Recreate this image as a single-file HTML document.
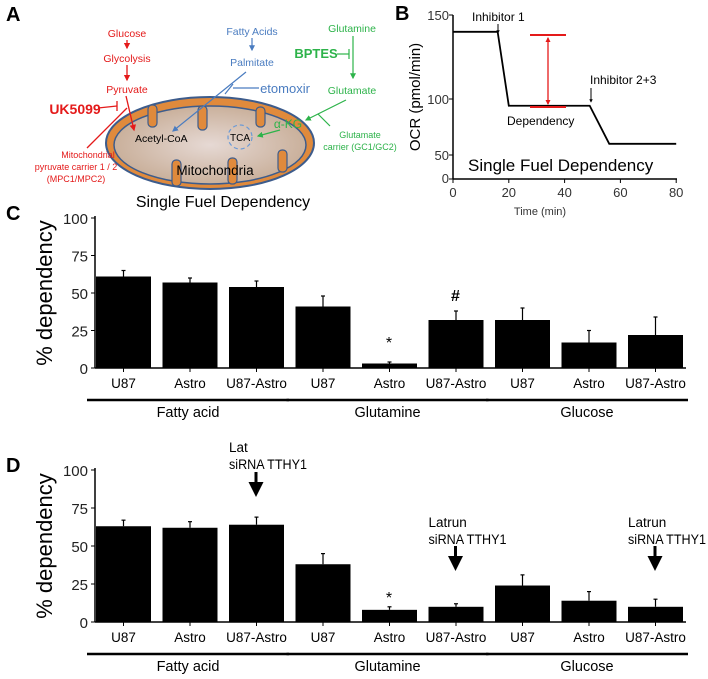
<!DOCTYPE html>
<html><head><meta charset="utf-8"><style>
html,body{margin:0;padding:0;background:#fff}
svg{display:block;font-family:"Liberation Sans",sans-serif}
</style></head><body>
<svg width="708" height="679" viewBox="0 0 708 679">
<defs>
<marker id="ab" viewBox="0 0 10 10" refX="8" refY="5" markerWidth="5" markerHeight="5" orient="auto"><path d="M0,0L10,5L0,10z" fill="#4a7cc0"/></marker>
<marker id="ar" viewBox="0 0 10 10" refX="8" refY="5" markerWidth="5" markerHeight="5" orient="auto"><path d="M0,0L10,5L0,10z" fill="#e41a1a"/></marker>
<marker id="ag" viewBox="0 0 10 10" refX="8" refY="5" markerWidth="5" markerHeight="5" orient="auto"><path d="M0,0L10,5L0,10z" fill="#2db34a"/></marker>
<marker id="ak" viewBox="0 0 10 10" refX="8" refY="5" markerWidth="5" markerHeight="5" orient="auto"><path d="M0,0L10,5L0,10z" fill="#000"/></marker>
<marker id="ak2" viewBox="0 0 10 10" refX="8" refY="5" markerWidth="3.5" markerHeight="3.5" orient="auto"><path d="M0,0L10,5L0,10z" fill="#000"/></marker>
<marker id="arr" viewBox="0 0 10 10" refX="8" refY="5" markerWidth="4" markerHeight="4" orient="auto-start-reverse"><path d="M0,0L10,5L0,10z" fill="#e41a1a"/></marker>
<radialGradient id="mg" cx="0.5" cy="0.5" r="0.6"><stop offset="0" stop-color="#e6d9d4"/><stop offset="1" stop-color="#c4a890"/></radialGradient>
</defs>

<!-- Panel A -->
<g>
<text x="6" y="21" font-size="20" font-weight="bold">A</text>
<ellipse cx="210" cy="143" rx="104" ry="46" fill="#e08a3c" stroke="#3d5c8c" stroke-width="2"/>
<ellipse cx="210" cy="145" rx="96" ry="39" fill="url(#mg)" stroke="#3d5c8c" stroke-width="1.5"/>
<g fill="#e08a3c" stroke="#3d5c8c" stroke-width="1.2">
<rect x="148" y="105" width="9" height="22" rx="4"/><rect x="198" y="106" width="9" height="24" rx="4"/><rect x="256" y="107" width="9" height="20" rx="4"/>
<rect x="172" y="160" width="9" height="26" rx="4"/><rect x="228" y="158" width="9" height="26" rx="4"/><rect x="278" y="150" width="9" height="22" rx="4"/>
</g>
<circle cx="240" cy="137" r="12" fill="none" stroke="#6b9ad6" stroke-dasharray="4,3" stroke-width="1.2"/>
<text x="240" y="141" font-size="10" text-anchor="middle">TCA</text>
<text x="135" y="142" font-size="10.5">Acetyl-CoA</text>
<text x="215" y="175" font-size="13.5" text-anchor="middle">Mitochondria</text>
<g fill="#e41a1a" font-size="10.5" text-anchor="middle">
<text x="127" y="37">Glucose</text><text x="127" y="62">Glycolysis</text><text x="127" y="93">Pyruvate</text>
<text x="88" y="158" font-size="9">Mitochondrial</text><text x="76" y="170" font-size="9">pyruvate carrier 1 / 2</text><text x="76" y="182" font-size="9">(MPC1/MPC2)</text>
<text x="75" y="114" font-size="14" font-weight="bold">UK5099</text>
</g>
<g stroke="#e41a1a" stroke-width="1.3" fill="none">
<line x1="127" y1="40" x2="127" y2="48" marker-end="url(#ar)"/><line x1="127" y1="65" x2="127" y2="80" marker-end="url(#ar)"/>
<line x1="126" y1="96" x2="134" y2="130" marker-end="url(#ar)"/>
<line x1="98" y1="108" x2="117" y2="106"/><line x1="117" y1="101" x2="117" y2="111"/>
<line x1="87" y1="148" x2="127" y2="108"/>
</g>
<g fill="#4a7cc0" font-size="10.5" text-anchor="middle">
<text x="252" y="35">Fatty Acids</text><text x="252" y="66">Palmitate</text>
<text x="285" y="93" font-size="13">etomoxir</text>
</g>
<g stroke="#4a7cc0" stroke-width="1.2" fill="none">
<line x1="252" y1="38" x2="252" y2="50" marker-end="url(#ab)"/>
<line x1="246" y1="72" x2="173" y2="131" marker-end="url(#ab)"/>
<line x1="259" y1="88" x2="233" y2="88"/><line x1="233" y1="84" x2="225" y2="94"/>
</g>
<g fill="#2db34a" font-size="10.5" text-anchor="middle">
<text x="352" y="32">Glutamine</text><text x="352" y="94">Glutamate</text>
<text x="316" y="58" font-size="13" font-weight="bold">BPTES</text>
<text x="288" y="128" font-size="12">α-KG</text>
<text x="360" y="138" font-size="9">Glutamate</text><text x="360" y="150" font-size="9">carrier (GC1/GC2)</text>
</g>
<g stroke="#2db34a" stroke-width="1.2" fill="none">
<line x1="353" y1="36" x2="353" y2="78" marker-end="url(#ag)"/>
<line x1="337" y1="54" x2="349" y2="54"/><line x1="349" y1="49" x2="349" y2="59"/>
<line x1="346" y1="100" x2="306" y2="120" marker-end="url(#ag)"/>
<line x1="280" y1="130" x2="258" y2="136" marker-end="url(#ag)"/>
<line x1="318" y1="114" x2="330" y2="126"/>
</g>
<text x="223" y="207" font-size="16" text-anchor="middle">Single Fuel Dependency</text>
</g>

<!-- Panel B -->
<g>
<text x="395" y="20" font-size="20" font-weight="bold">B</text>
<line x1="453" y1="15" x2="453" y2="179" stroke="#000" stroke-width="1.5"/>
<line x1="453" y1="179" x2="677" y2="179" stroke="#000" stroke-width="1.5"/>
<g font-size="13" fill="#333" text-anchor="end">
<text x="449" y="20">150</text><text x="449" y="104">100</text><text x="449" y="160">50</text><text x="449" y="183">0</text>
</g>
<g stroke="#000"><line x1="449" y1="15" x2="453" y2="15"/><line x1="449" y1="99" x2="453" y2="99"/><line x1="449" y1="155" x2="453" y2="155"/><line x1="449" y1="179" x2="453" y2="179"/></g>
<g id="bx" font-size="13" fill="#333" text-anchor="middle"></g>
<text x="540" y="215" font-size="11" fill="#333" text-anchor="middle">Time (min)</text>
<text transform="translate(420,97) rotate(-90)" font-size="15" text-anchor="middle">OCR (pmol/min)</text>
<polyline id="bline" fill="none" stroke="#000" stroke-width="1.8"/>
<line x1="530" y1="35" x2="566" y2="35" stroke="#e41a1a" stroke-width="2"/>
<line x1="530" y1="107" x2="566" y2="107" stroke="#e41a1a" stroke-width="2"/>
<line x1="548" y1="38" x2="548" y2="104" stroke="#e41a1a" stroke-width="1.3" marker-start="url(#arr)" marker-end="url(#arr)"/>
<text x="472" y="21" font-size="12">Inhibitor 1</text>
<line x1="498" y1="24" x2="498" y2="33" stroke="#000" marker-end="url(#ak2)"/>
<text x="590" y="84" font-size="12">Inhibitor 2+3</text>
<line x1="591" y1="88" x2="591" y2="102" stroke="#000" marker-end="url(#ak2)"/>
<text x="507" y="125" font-size="12">Dependency</text>
<text x="468" y="171" font-size="17">Single Fuel Dependency</text>
</g>

<g id="chartC"></g>
<g id="chartD"></g>
</svg>
<script>
const NS="http://www.w3.org/2000/svg";
function mk(p,t,a,txt){const e=document.createElementNS(NS,t);for(const k in a)e.setAttribute(k,a[k]);if(txt!==undefined)e.textContent=txt;p.appendChild(e);return e;}

// Panel B data
const bTimes=[0,16,20,49,56,80];
const bOcr=[140,140,94,94,60,60];
const bXTicks=[0,20,40,60,80];
function bx(t){return 453+t*2.79;}
function by(v){ if(v>=100) return 99-(v-100)*1.68; if(v>=50) return 155-(v-50)*1.12; return 179-v*0.48; }
document.getElementById('bline').setAttribute('points',bTimes.map((t,i)=>bx(t)+','+by(bOcr[i])).join(' '));
const bxg=document.getElementById('bx');
bXTicks.forEach(t=>{const e=mk(bxg,'text',{x:bx(t),y:197},t);


mk(document.querySelector('svg'),'line',{x1:bx(t),y1:179,x2:bx(t),y2:183,stroke:'#000'});});

// Panels C and D data
const categories=['U87','Astro','U87-Astro','U87','Astro','U87-Astro','U87','Astro','U87-Astro'];
const groups=['Fatty acid','Glutamine','Glucose'];
const yTicks=[0,25,50,75,100];
const cValues=[61,57,54,41,3,32,32,17,22];
const cErrors=[4,3,4,7,1,6,8,8,12];
const dValues=[63,62,64,38,8,10,24,14,10];
const dErrors=[4,4,5,7,2,2,7,6,5];

function drawChart(gid,label,y0,y100,vals,errs,marks){
  const g=document.getElementById(gid);
  const sc=v=>y0-(y0-y100)*v/100;
  const bxL=i=>96+i*66.5;
  mk(g,'text',{x:6,y:y100+2,'font-size':20,'font-weight':'bold'},label);
  mk(g,'line',{x1:95,y1:y100-2,x2:95,y2:y0,stroke:'#000','stroke-width':1.5});
  mk(g,'line',{x1:95,y1:y0,x2:686,y2:y0,stroke:'#000','stroke-width':1.5});
  yTicks.forEach(t=>{mk(g,'line',{x1:91,y1:sc(t),x2:95,y2:sc(t),stroke:'#000'});
    const e=mk(g,'text',{x:88,y:sc(t)+6,'font-size':15,'text-anchor':'end',fill:'#222'},t);
    
    });
  const yt=mk(g,'text',{transform:`translate(52,${(y0+y100)/2}) rotate(-90)`,'font-size':22,'text-anchor':'middle'},'% dependency');
  
  
  vals.forEach((v,i)=>{
    const x=bxL(i),w=55;
    const r=mk(g,'rect',{x:x,y:sc(v),width:w,height:y0-sc(v),fill:'#000'});
    
    
    const cx=x+w/2;
    mk(g,'line',{x1:cx,y1:sc(v),x2:cx,y2:sc(v+errs[i]),stroke:'#000','stroke-width':1.2});
    mk(g,'line',{x1:cx-2,y1:sc(v+errs[i]),x2:cx+2,y2:sc(v+errs[i]),stroke:'#000','stroke-width':1.2});
    mk(g,'line',{x1:cx,y1:y0,x2:cx,y2:y0+4,stroke:'#000'});
    const t=mk(g,'text',{x:cx,y:y0+20,'font-size':13.5,'text-anchor':'middle'},categories[i]);
    
    
  });
  groups.forEach((gr,j)=>{
    const x1=bxL(j*3)-9,x2=bxL(j*3+2)+60;
    mk(g,'line',{x1:x1,y1:y0+32,x2:x2,y2:y0+32,stroke:'#000','stroke-width':2.5});
    const t=mk(g,'text',{x:(x1+x2)/2,y:y0+49,'font-size':14.5,'text-anchor':'middle'},gr);
    
    
  });
  marks(g,sc,bxL);
}
drawChart('chartC','C',368,218,cValues,cErrors,(g,sc,bxL)=>{
  mk(g,'text',{x:bxL(4)+27,y:sc(cValues[4]+cErrors[4])-14,'font-size':16,'text-anchor':'middle'},'*');
  mk(g,'text',{x:bxL(5)+27,y:sc(cValues[5]+cErrors[5])-10,'font-size':16,'font-weight':'bold','text-anchor':'middle'},'#');
});
drawChart('chartD','D',622,470,dValues,dErrors,(g,sc,bxL)=>{
  mk(g,'text',{x:bxL(4)+27,y:sc(dValues[4]+dErrors[4])-4,'font-size':16,'text-anchor':'middle'},'*');
  const ann=[[2,['Lat','siRNA TTHY1'],452,476],[5,['Latrun','siRNA TTHY1'],527,550],[8,['Latrun','siRNA TTHY1'],527,550]];
  ann.forEach(a=>{const cx=bxL(a[0])+27;
    mk(g,'text',{x:cx-27,y:a[2],'font-size':13.5},a[1][0]);
    mk(g,'text',{x:cx-27,y:a[2]+17,'font-size':13.5,textLength:78,lengthAdjust:'spacingAndGlyphs'},a[1][1]);
    mk(g,'line',{x1:cx,y1:a[3]-4,x2:cx,y2:a[3]+18,stroke:'#000','stroke-width':3,'marker-end':'url(#ak)'});
  });
});
</script>
</body></html>
